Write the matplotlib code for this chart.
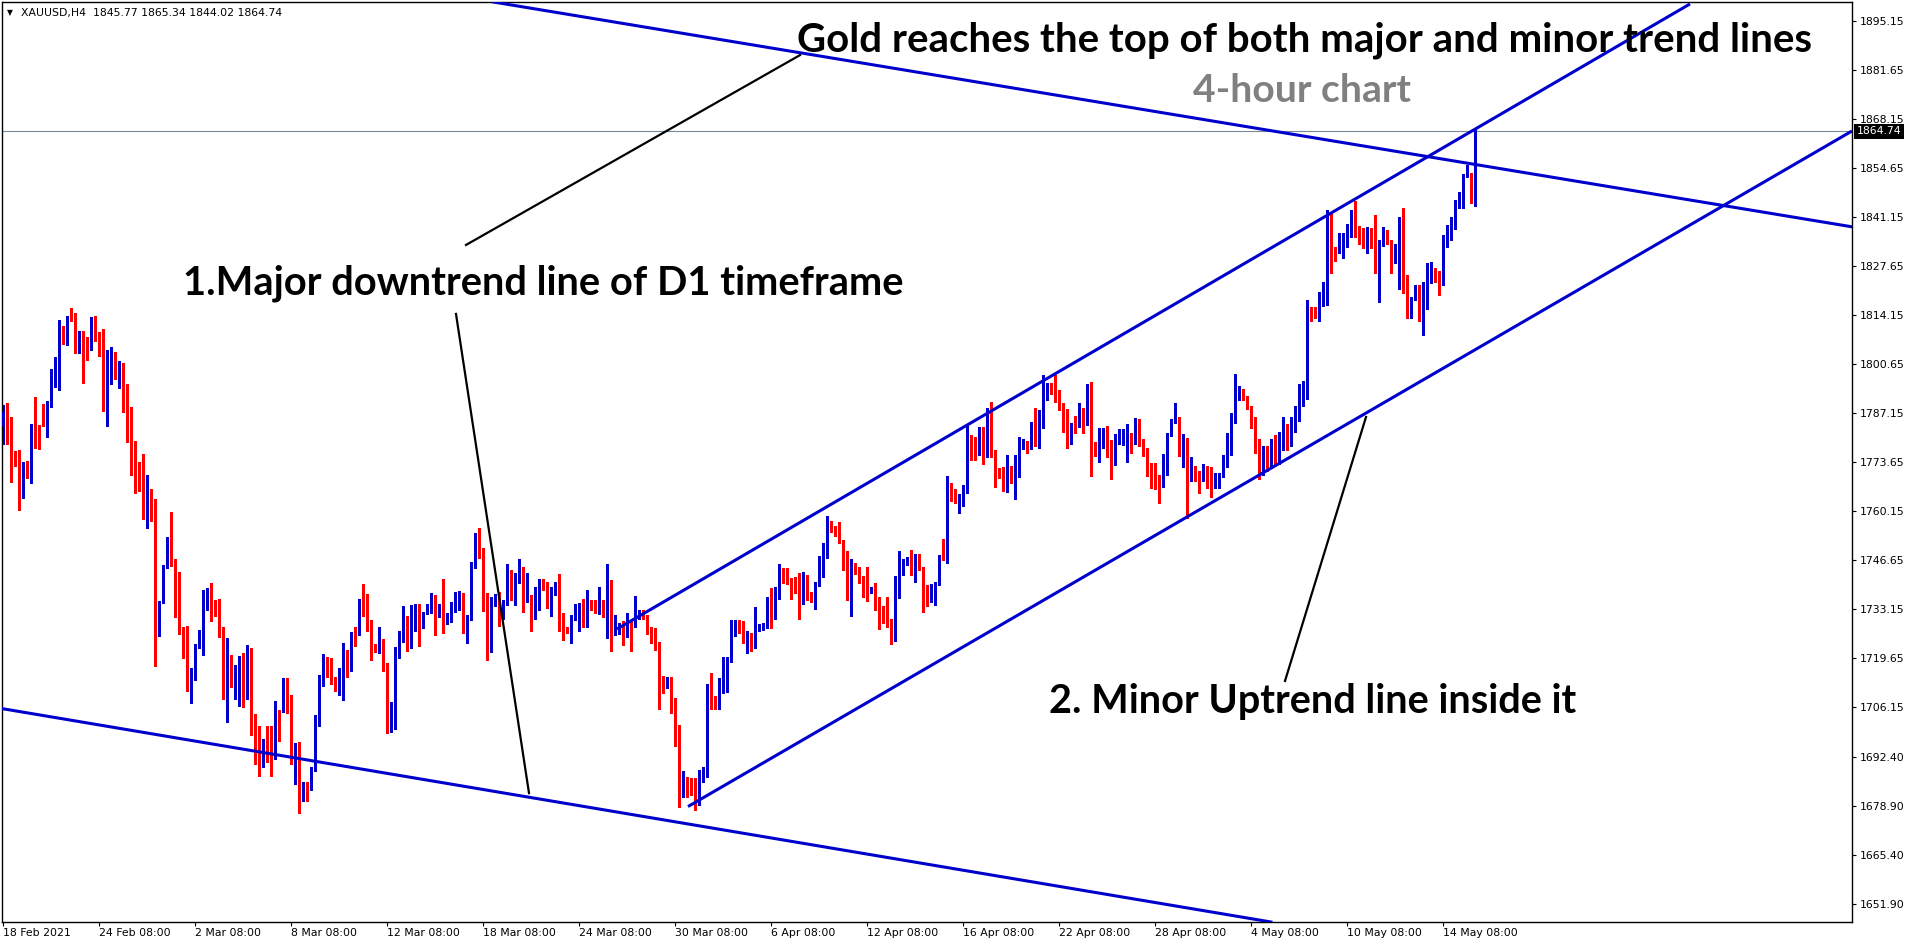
import numpy as np
import matplotlib.pyplot as plt

# XAUUSD H4 bars, 18 Feb 2021 -> 14 May 2021
opens = [
    1783.6, 1787.3, 1786.1, 1776.2, 1776.3, 1767.0, 1772.6, 1770.9, 1783.4, 1783.4,
    1786.9, 1786.4, 1789.3, 1797.4, 1797.4, 1809.2, 1809.2, 1813.3, 1812.7, 1803.9,
    1809.7, 1807.0, 1806.5, 1811.9, 1809.4, 1804.5, 1790.5, 1798.4, 1803.4, 1796.9,
    1800.7, 1794.2, 1781.6, 1773.3, 1772.1, 1771.1, 1760.5, 1763.2, 1761.8, 1726.3,
    1737.7, 1745.0, 1750.7, 1747.0, 1735.9, 1727.0, 1723.4, 1711.6, 1714.7, 1722.9,
    1727.3, 1736.7, 1738.0, 1734.2, 1733.0, 1728.1, 1712.4, 1717.5, 1711.1, 1715.3,
    1718.3, 1715.0, 1716.0, 1700.6, 1698.0, 1692.9, 1697.0, 1694.7, 1692.9, 1702.7,
    1706.2, 1713.2, 1707.6, 1690.4, 1691.1, 1680.6, 1684.8, 1683.5, 1689.0, 1702.7,
    1713.4, 1716.5,
    1715.6, 1713.5, 1712.9, 1714.2, 1720.1, 1719.0, 1726.4, 1725.9, 1735.6, 1733.9,
    1730.1, 1723.6, 1721.2, 1724.8, 1718.3, 1701.2, 1704.8, 1719.5, 1728.5, 1729.5,
    1723.8, 1734.0, 1734.2, 1729.0, 1732.1, 1732.2, 1736.5, 1731.0, 1734.5, 1729.0,
    1732.1, 1733.3, 1735.1, 1736.2, 1728.2, 1730.3, 1748.0, 1753.2, 1749.8, 1736.5,
    1723.0, 1734.5, 1736.5, 1731.2, 1734.2, 1737.0, 1735.9, 1742.9, 1743.9, 1735.4,
    1737.0, 1731.5, 1733.3, 1740.9, 1739.7, 1733.6, 1737.7, 1737.9,
    1731.2, 1727.8, 1727.1, 1730.3, 1731.0, 1734.9, 1730.1, 1735.1, 1735.1, 1732.8,
    1734.2, 1731.7, 1739.0, 1727.0, 1727.8, 1729.6, 1728.0, 1729.6, 1728.5, 1731.0,
    1732.4, 1731.5, 1727.8, 1724.9, 1723.9, 1713.3, 1712.5, 1713.3, 1708.0, 1698.1,
    1683.7, 1685.7, 1684.9, 1684.3, 1679.1, 1685.5, 1687.4, 1711.9, 1707.6, 1706.7,
    1711.1, 1716.1, 1718.6, 1725.8, 1728.7, 1727.6, 1724.3, 1725.3, 1723.2, 1728.1,
    1728.5, 1729.0, 1736.0, 1732.4, 1735.9, 1743.2, 1743.2,
    1741.1, 1739.3, 1738.2, 1737.9, 1740.5, 1737.4, 1736.2, 1739.7, 1743.1, 1747.3,
    1757.0, 1755.6, 1755.3, 1752.1, 1745.4, 1737.9, 1745.2, 1742.7, 1742.0, 1738.6,
    1737.9, 1739.0, 1733.1, 1733.5, 1730.5, 1730.1, 1728.2, 1736.2, 1742.7, 1745.7,
    1747.1, 1742.8, 1745.7, 1744.5, 1736.5, 1736.2, 1738.5, 1739.7, 1748.0, 1746.6,
    1767.5, 1763.9, 1762.7, 1764.8, 1765.4, 1781.0, 1780.1, 1775.5, 1782.4, 1777.8,
    1787.2, 1776.0, 1771.4, 1770.7, 1768.5, 1772.5, 1768.0, 1769.6,
    1777.8, 1778.3, 1777.2, 1781.0, 1778.3, 1786.1, 1790.7, 1794.0, 1794.0, 1793.4,
    1789.8, 1785.2, 1781.7, 1784.3, 1783.8, 1784.9, 1784.5, 1793.6, 1777.5, 1775.3,
    1778.1, 1780.3, 1779.7, 1776.5, 1778.7, 1781.0, 1781.0, 1781.5, 1778.9, 1782.9,
    1778.3, 1776.9, 1771.9, 1771.1, 1769.8, 1769.4, 1774.4, 1781.5, 1784.5, 1785.2,
    1777.2, 1779.9, 1768.5, 1772.5, 1769.8, 1768.5, 1769.8, 1769.4, 1767.5, 1766.4,
    1770.5, 1774.0, 1775.5, 1784.4, 1792.7, 1792.7, 1791.2,
    1788.4, 1785.0, 1778.0, 1772.0, 1776.0, 1773.0, 1778.0, 1775.0, 1780.0, 1782.0,
    1779.0, 1784.0, 1787.0, 1791.0,
    1793.0, 1815.7, 1814.8, 1812.7, 1819.1, 1820.5, 1838.6, 1832.7, 1832.7, 1832.9,
    1834.0, 1835.8, 1842.1, 1837.5, 1836.1, 1833.8, 1836.1, 1836.1, 1826.7, 1834.9,
    1836.8, 1834.3, 1830.0, 1833.1, 1839.8, 1820.2, 1814.7, 1818.2, 1819.3, 1815.0,
    1817.1, 1826.0, 1827.0, 1825.8, 1823.3, 1834.7, 1836.8, 1839.2, 1843.5, 1843.9,
    1852.4, 1853.1, 1845.77,
]
highs = [
    1789.3, 1789.8, 1786.1, 1776.7, 1777.0, 1773.6, 1773.8, 1784.1, 1791.5, 1783.9,
    1789.5, 1790.3, 1799.2, 1802.6, 1812.7, 1811.0, 1813.9, 1816.1, 1814.7, 1809.7,
    1809.7, 1808.0, 1813.6, 1813.9, 1809.4, 1810.3, 1804.5, 1805.3, 1803.9, 1801.3,
    1800.9, 1795.2, 1788.8, 1779.3, 1773.6, 1775.7, 1770.1, 1766.2, 1763.5, 1735.4,
    1745.2, 1752.9, 1759.8, 1747.0, 1743.3, 1728.3, 1728.5, 1717.0, 1723.6, 1727.3,
    1738.3, 1738.9, 1740.3, 1735.7, 1736.0, 1728.1, 1725.2, 1720.4, 1717.7, 1720.3,
    1721.0, 1723.2, 1722.4, 1704.2, 1700.8, 1697.4, 1700.8, 1701.0, 1707.8, 1705.2,
    1714.2, 1714.2, 1709.4, 1696.3, 1696.6, 1685.5, 1685.5, 1689.5, 1703.9, 1715.0,
    1720.6, 1720.0,
    1719.5, 1714.5, 1716.8, 1723.7, 1721.8, 1726.9, 1728.2, 1736.0, 1740.0, 1737.2,
    1730.1, 1723.6, 1728.2, 1724.8, 1718.3, 1707.6, 1722.7, 1727.0, 1734.0, 1731.2,
    1734.2, 1734.5, 1734.5, 1732.2, 1734.5, 1737.4, 1737.0, 1734.5, 1741.4, 1732.1,
    1735.1, 1737.7, 1738.0, 1737.4, 1731.5, 1746.2, 1754.1, 1755.3, 1749.8, 1737.4,
    1736.3, 1737.2, 1737.9, 1735.6, 1745.5, 1743.9, 1743.1, 1746.9, 1744.6, 1743.1,
    1737.0, 1739.3, 1741.3, 1741.3, 1740.6, 1739.1, 1740.6, 1742.7,
    1731.9, 1728.2, 1731.5, 1734.5, 1734.9, 1735.9, 1738.3, 1735.6, 1735.6, 1739.1,
    1735.6, 1745.5, 1741.1, 1731.5, 1729.3, 1729.9, 1731.9, 1730.1, 1736.7, 1732.8,
    1732.8, 1731.5, 1728.2, 1728.0, 1723.9, 1714.6, 1714.5, 1714.5, 1708.5, 1701.2,
    1688.6, 1686.9, 1686.5, 1686.5, 1688.9, 1689.5, 1712.4, 1715.6, 1709.1, 1714.0,
    1720.0, 1720.0, 1730.1, 1730.1, 1730.1, 1729.9, 1727.1, 1726.6, 1733.7, 1729.0,
    1729.3, 1736.3, 1738.8, 1739.3, 1745.5, 1744.3, 1744.3,
    1741.6, 1742.0, 1743.1, 1743.2, 1742.5, 1737.9, 1740.6, 1747.7, 1751.4, 1758.7,
    1757.4, 1756.0, 1757.2, 1752.1, 1749.2, 1746.8, 1745.9, 1744.6, 1742.2, 1744.6,
    1739.1, 1740.2, 1736.5, 1733.9, 1736.5, 1730.5, 1742.2, 1749.2, 1746.8, 1747.5,
    1749.4, 1748.3, 1748.3, 1744.8, 1739.7, 1740.0, 1740.6, 1748.0, 1752.3, 1769.7,
    1767.9, 1766.1, 1764.8, 1767.3, 1783.5, 1781.0, 1780.6, 1783.3, 1783.3, 1788.4,
    1790.2, 1776.9, 1771.9, 1772.1, 1775.5, 1772.5, 1775.5, 1780.6,
    1779.9, 1779.5, 1784.7, 1788.4, 1787.9, 1797.6, 1795.3, 1795.3, 1797.6, 1793.4,
    1789.8, 1788.1, 1784.3, 1786.3, 1789.8, 1788.4, 1795.1, 1795.7, 1779.2, 1782.9,
    1782.9, 1783.5, 1779.7, 1781.3, 1782.6, 1782.6, 1784.1, 1781.5, 1785.6, 1785.4,
    1779.9, 1777.4, 1773.4, 1773.4, 1770.0, 1775.8, 1781.7, 1785.4, 1789.8, 1785.9,
    1781.3, 1780.1, 1775.1, 1772.5, 1771.2, 1773.2, 1772.5, 1772.1, 1770.5, 1770.7,
    1775.5, 1781.7, 1787.2, 1797.8, 1794.5, 1793.6, 1791.8,
    1789.0, 1786.0, 1780.0, 1778.0, 1778.0, 1780.0, 1781.0, 1782.0, 1786.0, 1784.0,
    1786.0, 1789.0, 1795.0, 1796.0,
    1818.2, 1816.4, 1816.4, 1820.5, 1823.3, 1843.0, 1842.1, 1832.9, 1836.6, 1836.6,
    1839.2, 1843.0, 1845.6, 1838.6, 1838.0, 1838.4, 1838.0, 1841.6, 1834.9, 1838.4,
    1837.5, 1834.7, 1833.6, 1841.0, 1843.5, 1825.1, 1819.1, 1822.4, 1822.4, 1823.3,
    1828.5, 1828.8, 1827.0, 1826.3, 1836.1, 1838.9, 1841.0, 1845.8, 1848.1, 1852.9,
    1855.4, 1853.3, 1865.34,
]
lows = [
    1778.5, 1778.5, 1768.2, 1772.6, 1760.5, 1763.7, 1769.1, 1767.7, 1777.5, 1777.3,
    1783.6, 1780.5, 1788.7, 1794.2, 1793.5, 1806.0, 1805.8, 1812.4, 1803.7, 1803.6,
    1795.5, 1801.6, 1804.6, 1807.0, 1802.9, 1787.7, 1783.4, 1795.0, 1796.6, 1794.0,
    1787.3, 1779.0, 1770.1, 1765.2, 1765.7, 1758.0, 1755.4, 1757.5, 1717.3, 1725.8,
    1734.7, 1744.5, 1745.0, 1730.8, 1726.3, 1719.5, 1710.6, 1707.2, 1713.6, 1722.4,
    1720.4, 1732.8, 1729.8, 1731.3, 1725.4, 1708.4, 1702.0, 1711.6, 1708.3, 1706.5,
    1706.2, 1708.4, 1698.3, 1690.4, 1687.2, 1689.7, 1691.1, 1687.2, 1691.9, 1696.8,
    1704.7, 1704.5, 1690.4, 1684.8, 1676.9, 1680.1, 1680.1, 1683.3, 1688.5, 1700.8,
    1711.8, 1714.4,
    1712.4, 1710.6, 1709.4, 1708.0, 1714.3, 1716.1, 1723.0, 1725.9, 1731.2, 1727.1,
    1719.1, 1721.4, 1721.1, 1716.1, 1699.0, 1699.3, 1700.2, 1719.5, 1724.1, 1721.6,
    1722.3, 1727.1, 1722.9, 1727.8, 1731.7, 1731.9, 1726.0, 1731.0, 1726.6, 1729.0,
    1729.6, 1732.4, 1732.8, 1726.6, 1723.8, 1730.1, 1744.3, 1747.3, 1732.7, 1719.1,
    1721.4, 1733.9, 1728.4, 1730.3, 1734.2, 1735.6, 1734.2, 1740.4, 1732.4, 1735.1,
    1727.1, 1730.5, 1732.8, 1738.3, 1733.3, 1731.2, 1737.0, 1727.1,
    1724.6, 1726.4, 1723.7, 1730.1, 1727.1, 1728.2, 1728.2, 1732.8, 1732.1, 1731.7,
    1731.0, 1725.0, 1721.6, 1726.0, 1726.2, 1723.2, 1725.3, 1721.6, 1728.2, 1730.3,
    1730.3, 1726.2, 1723.7, 1721.8, 1705.5, 1709.9, 1711.3, 1704.6, 1695.4, 1678.7,
    1681.4, 1681.4, 1681.9, 1677.7, 1679.1, 1685.5, 1686.9, 1705.7, 1705.7, 1705.5,
    1709.9, 1710.3, 1718.6, 1725.7, 1726.6, 1723.7, 1721.1, 1721.6, 1722.3, 1727.1,
    1727.3, 1727.8, 1727.8, 1730.3, 1735.9, 1740.2, 1740.0,
    1735.8, 1737.4, 1730.5, 1734.5, 1735.6, 1735.1, 1733.0, 1739.5, 1742.0, 1747.3,
    1754.4, 1753.2, 1751.2, 1744.0, 1735.6, 1731.2, 1742.9, 1740.2, 1736.5, 1735.4,
    1737.6, 1732.8, 1727.5, 1729.4, 1728.2, 1723.6, 1724.4, 1736.2, 1742.5, 1745.2,
    1742.5, 1740.6, 1744.0, 1732.4, 1734.0, 1735.1, 1734.2, 1739.7, 1746.6, 1745.7,
    1763.0, 1762.4, 1759.7, 1761.5, 1765.2, 1774.3, 1774.2, 1775.5, 1773.1, 1775.1,
    1774.9, 1766.6, 1769.1, 1765.7, 1765.4, 1767.7, 1763.3, 1769.6,
    1777.1, 1776.0, 1777.1, 1778.0, 1777.6, 1783.1, 1790.7, 1792.3, 1790.2, 1787.9,
    1781.9, 1777.4, 1778.7, 1781.5, 1783.2, 1781.5, 1783.8, 1769.8, 1775.2, 1773.7,
    1777.6, 1775.1, 1768.8, 1772.8, 1778.6, 1778.3, 1773.7, 1776.0, 1778.7, 1778.0,
    1775.2, 1769.8, 1766.4, 1766.1, 1762.4, 1766.8, 1770.0, 1780.8, 1784.3, 1775.2,
    1772.1, 1758.1, 1768.5, 1768.5, 1765.2, 1768.5, 1766.4, 1764.1, 1766.4, 1766.4,
    1769.6, 1772.1, 1775.5, 1784.4, 1790.7, 1790.7, 1788.1,
    1783.0, 1776.0, 1769.0, 1770.0, 1771.0, 1772.0, 1773.0, 1773.0, 1777.0, 1777.0,
    1778.0, 1782.0, 1785.0, 1789.0,
    1791.0, 1812.5, 1813.2, 1812.5, 1816.6, 1816.8, 1825.6, 1829.1, 1831.1, 1829.7,
    1832.9, 1835.7, 1835.5, 1833.8, 1832.5, 1831.1, 1832.5, 1825.8, 1817.8, 1833.1,
    1833.6, 1825.8, 1828.3, 1821.4, 1820.1, 1813.2, 1813.2, 1818.2, 1812.5, 1808.6,
    1815.7, 1823.0, 1823.3, 1819.6, 1822.4, 1832.9, 1834.7, 1837.7, 1843.5, 1843.5,
    1852.0, 1844.9, 1844.02,
]
closes = [
    1787.3, 1785.9, 1775.8, 1775.3, 1767.0, 1772.6, 1770.9, 1783.2, 1782.9, 1782.9,
    1786.4, 1789.3, 1797.4, 1797.6, 1809.2, 1809.0, 1813.3, 1812.4, 1803.9, 1809.7,
    1806.7, 1804.8, 1811.9, 1809.4, 1804.3, 1790.5, 1798.4, 1805.3, 1796.9, 1800.7,
    1794.2, 1781.2, 1773.1, 1770.1, 1770.9, 1760.5, 1763.2, 1761.3, 1726.3, 1734.0,
    1745.0, 1750.7, 1746.8, 1735.7, 1726.8, 1724.9, 1711.6, 1714.7, 1722.9, 1727.3,
    1736.7, 1738.9, 1734.0, 1733.0, 1728.1, 1712.4, 1717.5, 1712.1, 1715.3, 1718.3,
    1716.0, 1716.0, 1700.6, 1698.3, 1692.9, 1697.0, 1694.4, 1693.4, 1702.7, 1700.8,
    1713.2, 1705.2, 1690.4, 1693.9, 1680.6, 1682.8, 1683.5, 1689.2, 1702.7, 1713.4,
    1716.5, 1715.5,
    1713.5, 1712.9, 1714.5, 1720.1, 1719.0, 1726.4, 1725.9, 1735.8, 1733.7, 1729.9,
    1723.5, 1722.1, 1724.8, 1718.0, 1701.2, 1705.0, 1720.0, 1727.0, 1729.5, 1723.8,
    1734.2, 1734.2, 1729.0, 1732.2, 1732.3, 1736.5, 1731.0, 1734.5, 1729.0, 1732.1,
    1733.7, 1735.3, 1736.3, 1728.2, 1730.1, 1744.6, 1753.2, 1749.6, 1736.5, 1723.0,
    1734.7, 1736.3, 1731.2, 1734.5, 1737.0, 1735.9, 1743.1, 1745.2, 1735.4, 1737.0,
    1731.3, 1733.3, 1740.9, 1738.5, 1733.6, 1737.9, 1738.2, 1731.0,
    1727.6, 1726.9, 1730.7, 1731.5, 1734.9, 1730.1, 1735.1, 1733.8, 1732.8, 1734.2,
    1731.9, 1739.0, 1727.3, 1727.6, 1728.7, 1728.2, 1730.1, 1728.5, 1731.9, 1732.8,
    1731.5, 1727.6, 1724.6, 1723.8, 1713.1, 1711.7, 1713.3, 1707.9, 1697.9, 1683.7,
    1685.7, 1684.9, 1684.2, 1679.1, 1686.0, 1687.6, 1711.9, 1707.6, 1706.7, 1711.2,
    1716.3, 1718.8, 1725.9, 1729.6, 1727.6, 1724.3, 1725.3, 1723.2, 1728.2, 1728.5,
    1729.2, 1736.0, 1732.4, 1736.0, 1743.2, 1742.8, 1740.8,
    1739.1, 1737.9, 1737.9, 1740.5, 1737.4, 1736.2, 1740.0, 1743.2, 1747.2, 1754.4,
    1756.1, 1755.1, 1751.9, 1745.2, 1737.9, 1745.2, 1743.4, 1741.6, 1738.4, 1737.9,
    1738.8, 1732.8, 1732.1, 1730.5, 1729.8, 1728.2, 1736.3, 1742.7, 1745.4, 1747.1,
    1742.8, 1745.7, 1744.1, 1736.2, 1736.2, 1738.5, 1739.7, 1748.0, 1746.8, 1767.5,
    1763.1, 1762.4, 1764.8, 1765.9, 1780.8, 1779.7, 1776.5, 1782.1, 1777.8, 1787.2,
    1775.8, 1771.2, 1770.7, 1768.5, 1772.5, 1768.0, 1769.6, 1778.0,
    1778.5, 1777.2, 1781.0, 1778.3, 1786.3, 1790.9, 1793.9, 1793.7, 1793.3, 1789.8,
    1785.0, 1781.7, 1784.3, 1783.8, 1784.9, 1784.5, 1793.4, 1777.4, 1776.5, 1778.3,
    1780.1, 1779.5, 1776.5, 1778.7, 1781.3, 1781.3, 1781.5, 1778.9, 1782.9, 1778.0,
    1776.5, 1771.7, 1770.9, 1769.6, 1769.4, 1774.6, 1781.5, 1784.5, 1785.2, 1777.2,
    1779.9, 1768.5, 1772.1, 1769.4, 1768.5, 1769.8, 1769.4, 1767.5, 1768.8, 1770.7,
    1774.2, 1775.7, 1784.5, 1793.0, 1793.2, 1791.0, 1788.4,
    1785.0, 1778.0, 1772.0, 1776.0, 1773.0, 1778.0, 1775.0, 1780.0, 1782.0, 1779.0,
    1784.0, 1787.0, 1791.0, 1793.0,
    1815.7, 1815.0, 1814.6, 1819.3, 1820.8, 1838.6, 1832.5, 1830.6, 1833.1, 1834.3,
    1836.1, 1842.1, 1837.3, 1835.5, 1833.8, 1836.1, 1835.8, 1826.5, 1834.9, 1836.8,
    1834.3, 1830.0, 1833.4, 1839.8, 1820.2, 1815.7, 1818.4, 1819.3, 1815.0, 1823.3,
    1826.0, 1826.7, 1825.6, 1823.7, 1834.7, 1836.8, 1839.2, 1842.3, 1844.1, 1852.7,
    1853.3, 1845.6, 1864.74,
]

price_ticks = [1895.15, 1881.65, 1868.15, 1854.65, 1841.15, 1827.65, 1814.15,
               1800.65, 1787.15, 1773.65, 1760.15, 1746.65, 1733.15, 1719.65,
               1706.15, 1692.40, 1678.90, 1665.40, 1651.90]
date_bars = [0, 24, 48, 72, 96, 120, 144, 168, 192, 216, 240, 264, 288, 312, 336, 360]
date_labels = ['18 Feb 2021', '24 Feb 08:00', '2 Mar 08:00', '8 Mar 08:00',
               '12 Mar 08:00', '18 Mar 08:00', '24 Mar 08:00', '30 Mar 08:00',
               '6 Apr 08:00', '12 Apr 08:00', '16 Apr 08:00', '22 Apr 08:00',
               '28 Apr 08:00', '4 May 08:00', '10 May 08:00', '14 May 08:00']

# hand drawn lines on the chart, as (bar, price) anchors
major_top = [(125.5, 1899.8), (462.25, 1838.4)]
major_bottom = [(0.2, 1705.6), (317.0, 1646.9)]
minor_top = [(153.5, 1727.6), (421.75, 1899.8)]
minor_bottom = [(171.25, 1678.7), (462.25, 1864.8)]
pointer_title = [(115.75, 1833.4), (199.25, 1885.7)]
pointer_major = [(113.25, 1814.4), (131.5, 1682.4)]
pointer_minor = [(340.75, 1786.0), (320.5, 1713.3)]

W, H, DPI = 1916, 946, 100
BLUE = '#0000cd'
RED = '#ff0000'

fig = plt.figure(figsize=(W / DPI, H / DPI), dpi=DPI)
ax = fig.add_axes([2 / W, 24 / H, 1850 / W, 920 / H])

o, h, l, c = map(np.array, (opens, highs, lows, closes))
x = np.arange(len(c))
col = np.where(c >= o, BLUE, RED)
ax.vlines(x, l, h, colors=col, lw=0.9, antialiased=False, zorder=2)
ax.bar(x, np.maximum(np.abs(c - o), 0.3), bottom=np.minimum(o, c), width=0.62,
       color=col, lw=0, antialiased=False, zorder=3)

# trend lines
ax.axline(*major_top, color=BLUE, lw=2.2, zorder=4)
ax.axline(*major_bottom, color=BLUE, lw=2.2, zorder=4)
for seg in (minor_top, minor_bottom):
    ax.plot(*zip(*seg), color=BLUE, lw=2.2, zorder=4, solid_capstyle='butt')
for seg in (pointer_title, pointer_major, pointer_minor):
    ax.plot(*zip(*seg), color='black', lw=1.6, zorder=4)

# last price line + label
last = c[-1]
ax.axhline(last, color='#778899', lw=0.8, zorder=1)
ax.text(1.0025, last, f'{last:.2f}', transform=ax.get_yaxis_transform(), color='white',
        fontsize=7.8, va='center', ha='left', clip_on=False, zorder=6,
        bbox=dict(boxstyle='square,pad=0.22', fc='black', ec='none'))

ax.set_xlim(-0.25, 462.25)
ax.set_ylim(1646.9, 1900.33)
ax.yaxis.tick_right()
ax.set_yticks(price_ticks, [f'{p:.2f}' for p in price_ticks])
ax.set_xticks(date_bars, date_labels, ha='left')
ax.tick_params(axis='y', length=2.6, width=0.8, pad=2.8, labelsize=7.8)
ax.tick_params(axis='x', length=2.9, width=0.8, pad=1.2, labelsize=7.8)
for s in ax.spines.values():
    s.set_linewidth(1.0)

# header
fig.text(7 / W, 1 - 13 / H, '\u25bc', fontsize=5.5, va='center')
fig.text(21 / W, 1 - 13 / H, f'XAUUSD,H4  {o[-1]:.2f} {h[-1]:.2f} {l[-1]:.2f} {c[-1]:.2f}',
         fontsize=7.8, va='center')


def put_text(s, x0, x1, yc, color='black'):
    t = fig.text(x0 / W, 1 - yc / H, s, family='Lato', weight='bold', color=color,
                 fontsize=20, va='center', ha='left')
    w = t.get_window_extent(fig.canvas.get_renderer()).width
    t.set_fontsize(20 * (x1 - x0) / w)
    return t


put_text('Gold reaches the top of both major and minor trend lines', 797, 1809, 40)
put_text('4-hour chart', 1193, 1411, 90, color='#808080')
put_text('1.Major downtrend line of D1 timeframe', 183, 904, 283)
put_text('2. Minor Uptrend line inside it', 1049, 1577, 702)

fig.savefig('out.png', dpi=DPI)
